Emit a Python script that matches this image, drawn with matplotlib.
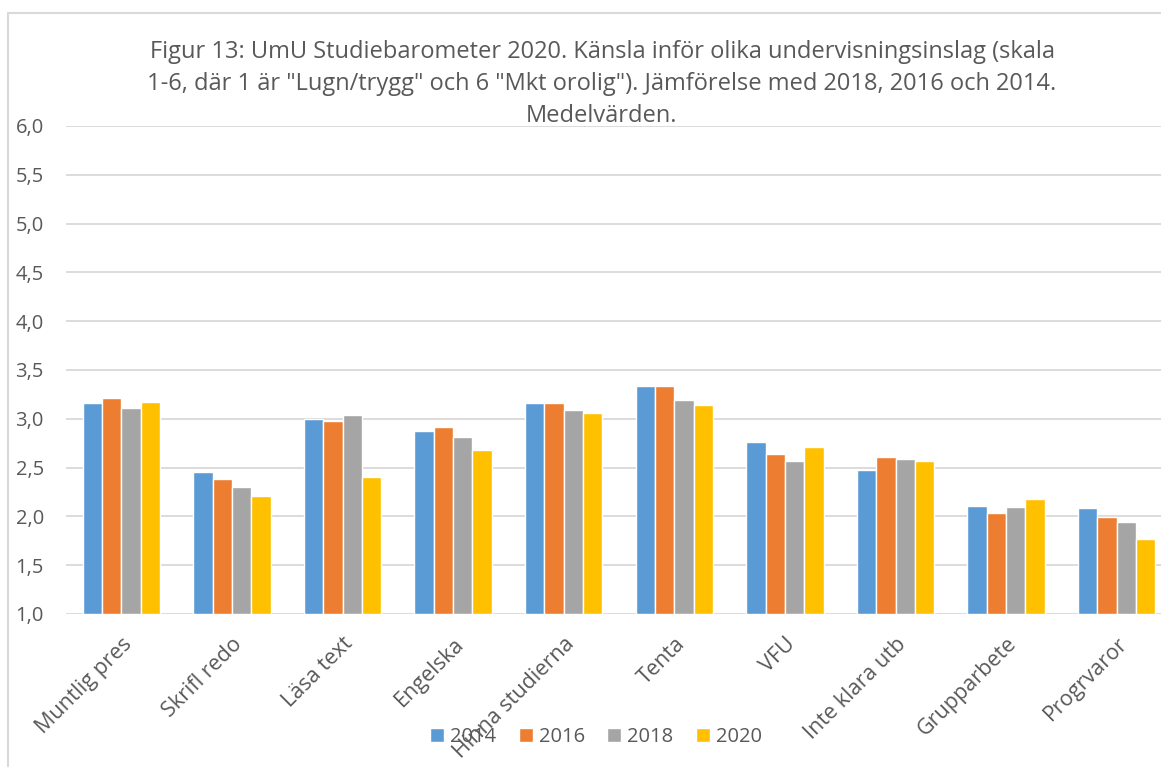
import numpy as np
import matplotlib.pyplot as plt
from matplotlib.patches import Rectangle
from matplotlib.ticker import FuncFormatter

# Data
kategorier = ['Muntlig pres', 'Skrifl redo', 'Läsa text', 'Engelska', 'Hinna studierna',
              'Tenta', 'VFU', 'Inte klara utb', 'Grupparbete', 'Progrvaror']
ar = ['2014', '2016', '2018', '2020']
v2014 = [3.16, 2.46, 3.00, 2.87, 3.16, 3.34, 2.76, 2.48, 2.11, 2.09]
v2016 = [3.21, 2.38, 2.98, 2.92, 3.16, 3.34, 2.64, 2.61, 2.03, 1.99]
v2018 = [3.11, 2.30, 3.04, 2.81, 3.09, 3.19, 2.57, 2.59, 2.10, 1.94]
v2020 = [3.17, 2.21, 2.40, 2.68, 3.06, 3.14, 2.71, 2.57, 2.18, 1.77]
farger = ['#5B9BD5', '#ED7D31', '#A5A5A5', '#FFC000']

titel = ('Figur 13: UmU Studiebarometer 2020. Känsla inför olika undervisningsinslag (skala\n'
         '1-6, där 1 är "Lugn/trygg" och 6 "Mkt orolig"). Jämförelse med 2018, 2016 och 2014.\n'
         'Medelvärden.')

plt.rcParams['font.family'] = ['Open Sans', 'DejaVu Sans']
textfarg = '#595959'
fs = 14.5

fig = plt.figure(figsize=(11.61, 7.67), dpi=100)
ax = fig.add_axes([66 / 1161, 1 - 614 / 767, 1106 / 1161, (614 - 126) / 767])

x = np.arange(len(kategorier))
bredd = 0.175
serier = [v2014, v2016, v2018, v2020]
for k, (vals, farg, namn) in enumerate(zip(serier, farger, ar)):
    ax.bar(x + (k - 1.5) * bredd, np.array(vals) - 1.0, bottom=1.0, width=bredd,
           color=farg, edgecolor='white', linewidth=1.0, label=namn, zorder=3)

ax.set_xlim(-0.5, len(kategorier) - 0.5)
ax.set_ylim(1.0, 6.0)
ax.set_yticks(np.arange(1.0, 6.01, 0.5))
ax.yaxis.set_major_formatter(FuncFormatter(lambda v, p: f'{v:.1f}'.replace('.', ',')))
ax.grid(axis='y', color='#d9d9d9', linewidth=1.3, zorder=0)
for s in ax.spines.values():
    s.set_visible(False)
ax.tick_params(axis='both', length=0, colors=textfarg, labelsize=fs)
ax.tick_params(axis='y', pad=16)

ax.set_xticks(x)
ax.set_xticklabels(kategorier, rotation=45, ha='right', va='top', rotation_mode='anchor',
                   fontsize=15.5)
ax.tick_params(axis='x', pad=14)

fig.text(602 / 1161, 1 - 84 / 767, titel, ha='center', va='center', fontsize=17,
         color=textfarg, linespacing=1.47)

fig.legend(loc='center', bbox_to_anchor=(596 / 1161, 1 - 737 / 767), ncol=4,
           frameon=False, fontsize=fs, labelcolor=textfarg, handlelength=0.7,
           handleheight=0.7, handletextpad=0.3, columnspacing=1.1)

fig.patches.append(Rectangle((8 / 1161, -0.05), 1.2, 1.05 - 13 / 767, fill=False,
                             edgecolor='#d9d9d9', linewidth=1.5, transform=fig.transFigure))

fig.savefig('out.png', dpi=100)
